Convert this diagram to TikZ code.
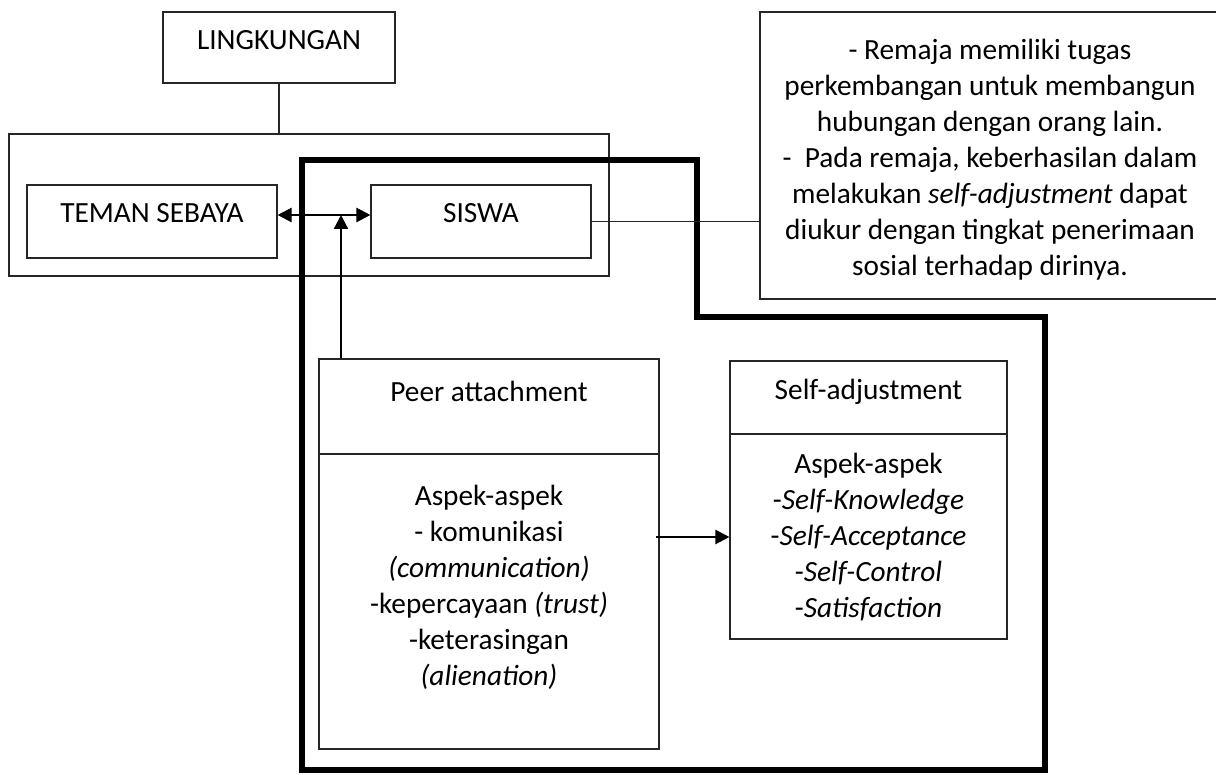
\documentclass[tikz,border=0pt]{standalone}
\usepackage{fontspec}
\setmainfont{Carlito}
\usetikzlibrary{arrows.meta}
\begin{document}
\begin{tikzpicture}[x=1pt,y=-1pt,
  boxn/.style={draw=black!85,line width=1.1pt,rectangle,inner sep=0pt},
  txt/.style={font=\fontsize{29.3pt}{36pt}\selectfont,align=center,inner sep=0pt,anchor=base},
  thin/.style={line width=1.1pt,draw=black!85},
  arr/.style={line width=2.2pt,-{Triangle[length=14pt,width=14pt]}},
  dblarr/.style={line width=2.2pt,{Triangle[length=14pt,width=14pt]}-{Triangle[length=14pt,width=14pt]}},
  heavy/.style={line width=6pt,line join=miter}]
\useasboundingbox (0,0) rectangle (1216,775);
\fill[white] (0,0) rectangle (1216,775);

% boxes
\node[boxn,minimum width=232pt,minimum height=71pt] (lingk) at (279,47.5) {};
\node[boxn,minimum width=600pt,minimum height=142pt] (outer) at (309,205) {};
\node[boxn,minimum width=250pt,minimum height=73pt] (teman) at (152,221.5) {};
\node[boxn,minimum width=220pt,minimum height=73pt] (siswa) at (481,221.5) {};
\node[boxn,minimum width=460pt,minimum height=287pt] (note) at (990,155.5) {};
\node[boxn,minimum width=340pt,minimum height=390pt] (peer) at (489,554) {};
\node[boxn,minimum width=277pt,minimum height=278pt] (self) at (868.5,500) {};

% dividers
\coordinate (pdiv) at (0,454);
\coordinate (sdiv) at (0,434);
\draw[thin] (peer.west |- pdiv) -- (peer.east |- pdiv);
\draw[thin] (self.west |- sdiv) -- (self.east |- sdiv);

% texts (anchor=base is the baseline of the last line)
\node[txt] (tl) at (279,50) {LINGKUNGAN};
\node[txt] (tt) at (152,223) {TEMAN SEBAYA};
\node[txt] (ts) at (481,223) {SISWA};
\node[txt] (tn) at (990,276) {- Remaja memiliki tugas\\perkembangan untuk membangun\\hubungan dengan orang lain.\\-\ \ Pada remaja, keberhasilan dalam\\melakukan \textit{self-adjustment} dapat\\diukur dengan tingkat penerimaan\\sosial terhadap dirinya.};
\node[txt] (tp) at (489,402) {Peer attachment};
\node[txt] (tpa) at (489,685) {Aspek-aspek\\- komunikasi\\\textit{(communication)}\\-kepercayaan \textit{(trust)}\\-keterasingan\\\textit{(alienation)}};
\node[txt] (tsa) at (868.5,400) {Self-adjustment};
\node[txt] (tsb) at (868.5,617) {Aspek-aspek\\-\textit{Self-Knowledge}\\-\textit{Self-Acceptance}\\-\textit{Self-Control}\\-\textit{Satisfaction}};

% heavy outline
\draw[heavy] (302,160) -- (697,160) -- (697,317) -- (1045,317) -- (1045,770) -- (302,770) -- cycle;

% connectors
\draw[thin] (lingk.south) -- (lingk.south |- outer.north);
\draw[thin] (siswa.east) -- (note.west |- siswa.east);
\coordinate (meet) at (341,215);
\draw[dblarr] (teman.east |- meet) -- (siswa.west |- meet);
\draw[arr] (peer.north -| meet) -- (meet);
\coordinate (pstart) at (656,537);
\draw[arr] (pstart) -- (pstart -| self.west);
\end{tikzpicture}
\end{document}
